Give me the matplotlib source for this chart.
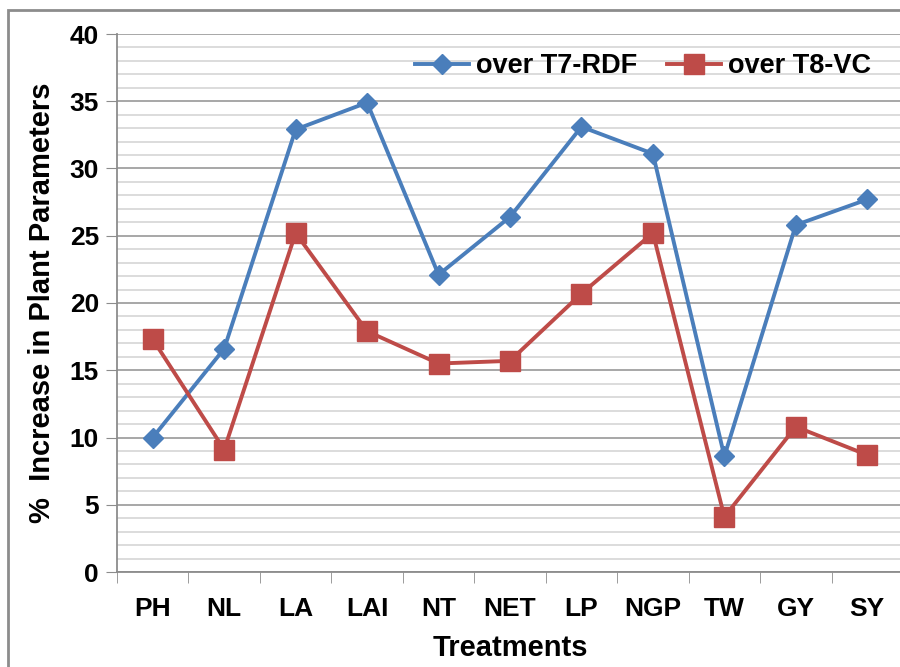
import matplotlib
matplotlib.use("Agg")
import matplotlib.pyplot as plt
from matplotlib.patches import Rectangle
import numpy as np

# Treatment labels and % increase values
treatments = ["PH", "NL", "LA", "LAI", "NT", "NET", "LP", "NGP", "TW", "GY", "SY"]
over_t7_rdf = [10.0, 16.6, 32.9, 34.9, 22.1, 26.4, 33.1, 31.1, 8.6, 25.8, 27.7]
over_t8_vc = [17.3, 9.1, 25.2, 17.9, 15.5, 15.7, 20.7, 25.2, 4.1, 10.8, 8.7]

plt.rcParams["font.family"] = ["Liberation Sans", "DejaVu Sans"]
plt.rcParams["font.weight"] = "bold"

fig = plt.figure(figsize=(9, 6.67), dpi=100)
ax = fig.add_axes([117 / 900, 1 - 572 / 667, 786 / 900, 538 / 667])

# outer chart border (cut at right and bottom like the reference)
fig.patches.append(Rectangle((8 / 900, -0.1), 1.2, 1.1 - 10 / 667,
                             transform=fig.transFigure, fill=False,
                             edgecolor="#8c8c8c", linewidth=2))

x = np.arange(len(treatments))
ax.plot(x, over_t7_rdf, color="#4a7ebb", linewidth=2.8, marker="D",
        markersize=10.5, label="over T7-RDF", zorder=3)
ax.plot(x, over_t8_vc, color="#be4b48", linewidth=2.8, marker="s",
        markersize=15, label="over T8-VC", zorder=3)

ax.set_xlim(-0.5, len(treatments) - 0.5)
ax.set_ylim(0, 40)
ax.set_yticks(np.arange(0, 41, 5))
ax.set_yticks(np.arange(0, 41, 1), minor=True)
ax.set_xticks(x)
ax.set_xticklabels(treatments)
ax.set_xticks(np.arange(-0.5, len(treatments), 1), minor=True)

ax.grid(axis="y", which="major", color="#a0a0a0", linewidth=1.3, zorder=0)
ax.grid(axis="y", which="minor", color="#d9d9d9", linewidth=1.3, zorder=0)
ax.set_axisbelow(True)

ax.tick_params(axis="y", which="major", length=8, color="#8c8c8c",
               labelsize=19, pad=5)
ax.tick_params(axis="y", which="minor", length=0)
ax.tick_params(axis="x", which="major", length=0, labelsize=19, pad=18)
ax.tick_params(axis="x", which="minor", length=8, color="#8c8c8c")

for side in ["top", "right"]:
    ax.spines[side].set_visible(False)
for side in ["left", "bottom"]:
    ax.spines[side].set_color("#8c8c8c")
    ax.spines[side].set_linewidth(1.3)

ax.set_xlabel("Treatments", fontsize=21, fontweight="bold", labelpad=9)
ax.set_ylabel("%  Increase in Plant Parameters", fontsize=21,
              fontweight="bold", labelpad=10)

ax.legend(loc="upper right", ncol=2, frameon=False, fontsize=19.5,
          bbox_to_anchor=(0.99, 1.01), handlelength=2.0, columnspacing=1.1,
          handletextpad=0.25)

fig.savefig("out.png", dpi=100)
